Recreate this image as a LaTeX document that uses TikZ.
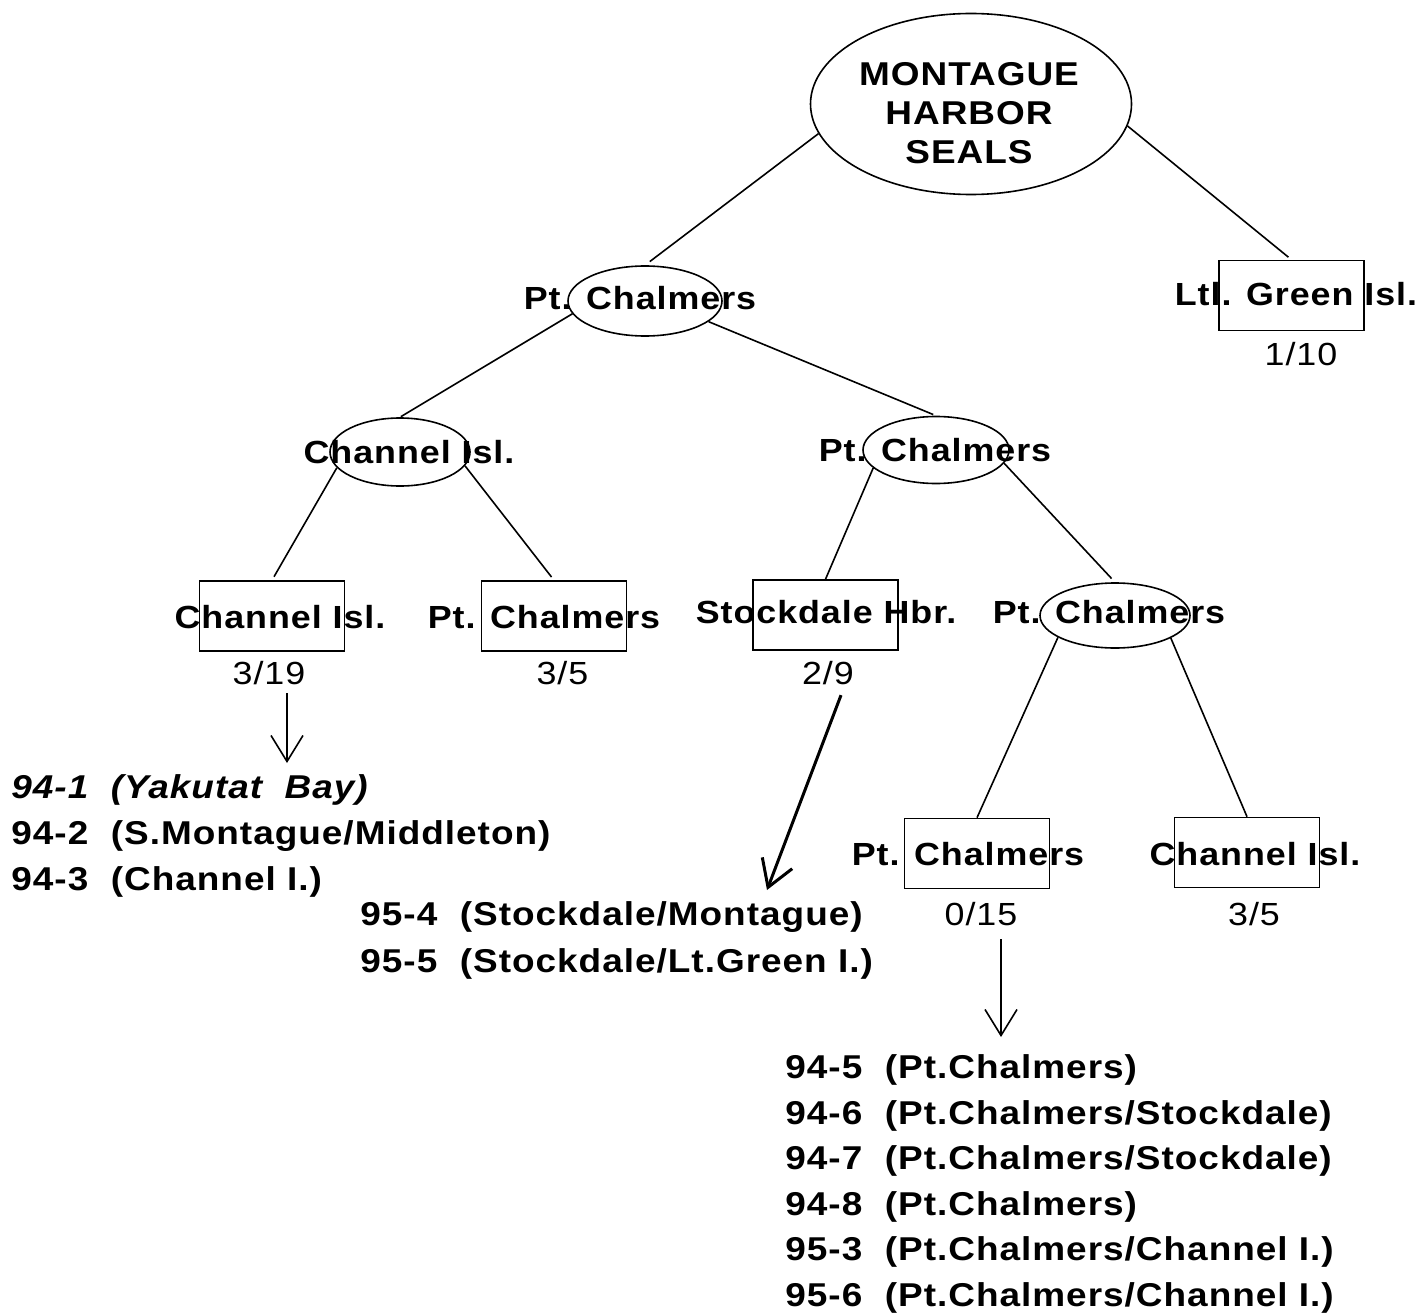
\documentclass[tikz,border=0pt]{standalone}
\usepackage{fontspec}
\setmainfont{Liberation Sans}[FakeStretch=1.12,LetterSpace=3]
\usetikzlibrary{shapes.geometric,arrows.meta,calc}

\begin{document}
\begin{tikzpicture}[x=0.5pt,y=-0.5pt,
    oval/.style={draw,ellipse,line width=0.8pt,inner sep=0pt},
    box/.style={draw,line width=0.8pt,inner sep=0pt,minimum width=72.5pt,minimum height=35pt},
    place/.style={font=\fontsize{16}{19.5}\selectfont\bfseries,inner sep=0pt,align=center},
    ratio/.style={font=\fontsize{16}{19}\selectfont,inner sep=0pt},
    tag/.style={font=\fontsize{16.5}{23}\selectfont\bfseries,inner sep=0pt,align=left,anchor=west},
    branch/.style={line width=0.8pt},
    pointer/.style={line width=0.8pt,-{Straight Barb[length=13pt,width=16pt]}}]
\useasboundingbox (0,0) rectangle (1423,1316);

\node[oval,minimum width=160.5pt,minimum height=90.5pt] (root) at (971,104) {};
\node[place,font=\fontsize{16.5}{19.5}\selectfont\bfseries] (lroot) at (969,113) {MONTAGUE\\HARBOR\\SEALS};

\node[oval,minimum width=77pt,minimum height=35pt] (ptc1) at (645,301) {};
\node[place] (lptc1) at (640,298.5) {Pt. Chalmers};
\node[box] (green) at (1291.5,295.5) {};
\node[place] (lgreen) at (1296,294.5) {Ltl. Green Isl.};
\node[ratio] (f110) at (1301,354) {1/10};

\node[oval,minimum width=70pt,minimum height=34pt] (chan2) at (400,452) {};
\node[place] (lchan2) at (409,452) {Channel Isl.};
\node[oval,minimum width=73pt,minimum height=33.5pt] (ptc2) at (936,450) {};
\node[place] (lptc2) at (935,450) {Pt. Chalmers};

\node[box] (chan3) at (272,616) {};
\node[place] (lchan3) at (280,617) {Channel Isl.};
\node[ratio] (f319) at (269,673) {3/19};
\node[box] (ptc3a) at (554,616) {};
\node[place] (lptc3a) at (544,617) {Pt. Chalmers};
\node[ratio] (f35a) at (562.5,673) {3/5};
\node[box] (stock) at (825.5,615) {};
\node[place] (lstock) at (826,612) {Stockdale Hbr.};
\node[ratio] (f29) at (828,673) {2/9};
\node[oval,minimum width=75pt,minimum height=32.5pt] (ptc3) at (1115,615.5) {};
\node[place] (lptc3) at (1109,612) {Pt. Chalmers};

\node[box] (ptc4) at (977,853.5) {};
\node[place] (lptc4) at (968,854) {Pt. Chalmers};
\node[ratio] (f015) at (981,914) {0/15};
\node[box] (chan4) at (1247,852.5) {};
\node[place] (lchan4) at (1255,854) {Channel Isl.};
\node[ratio] (f35b) at (1254,914) {3/5};

\draw[branch,shorten >=3pt] (root.191) -- (ptc1.north);
\draw[branch,shorten >=2pt] (root.352) -- (green.north);
\draw[branch,shorten >=0.5pt] (ptc1.190) -- (chan2.north);
\draw[branch,shorten >=1.5pt] (ptc1.342) -- (ptc2.north);
\draw[branch,shorten >=2pt] (chan2.194) -- (chan3.north);
\draw[branch,shorten >=2pt] (chan2.348) -- (ptc3a.north);
\draw[branch] (ptc2.196) -- (stock.north);
\draw[branch,shorten >=2.5pt] (ptc2.349) -- (ptc3.north);
\draw[branch] (ptc3.201) -- (ptc4.north);
\draw[branch] (ptc3.338) -- (chan4.north);

\node[tag] (ids1) at (11,836) {{\itshape 94-1\ \ (Yakutat\ \ Bay)}\\94-2\ \ (S.Montague/Middleton)\\94-3\ \ (Channel I.)};
\node[tag,font=\fontsize{16.5}{23.75}\selectfont\bfseries] (ids2) at (360,940.5) {95-4\ \ (Stockdale/Montague)\\95-5\ \ (Stockdale/Lt.Green I.)};
\node[tag,font=\fontsize{16.5}{22.8}\selectfont\bfseries] (ids3) at (785,1184) {94-5\ \ (Pt.Chalmers)\\94-6\ \ (Pt.Chalmers/Stockdale)\\94-7\ \ (Pt.Chalmers/Stockdale)\\94-8\ \ (Pt.Chalmers)\\95-3\ \ (Pt.Chalmers/Channel I.)\\95-6\ \ (Pt.Chalmers/Channel I.)};

\coordinate (tip1) at (287,763);
\coordinate (tip2) at (767,890);
\coordinate (tip3) at (1001,1037);
\draw[pointer,shorten <=4pt] (f319.south -| tip1) -- (tip1);
\draw[pointer,line width=1.5pt] ($(f29.south)+(13,10)$) -- (tip2);
\draw[pointer,shorten <=6.5pt] (f015.south -| tip3) -- (tip3);
\end{tikzpicture}
\end{document}
